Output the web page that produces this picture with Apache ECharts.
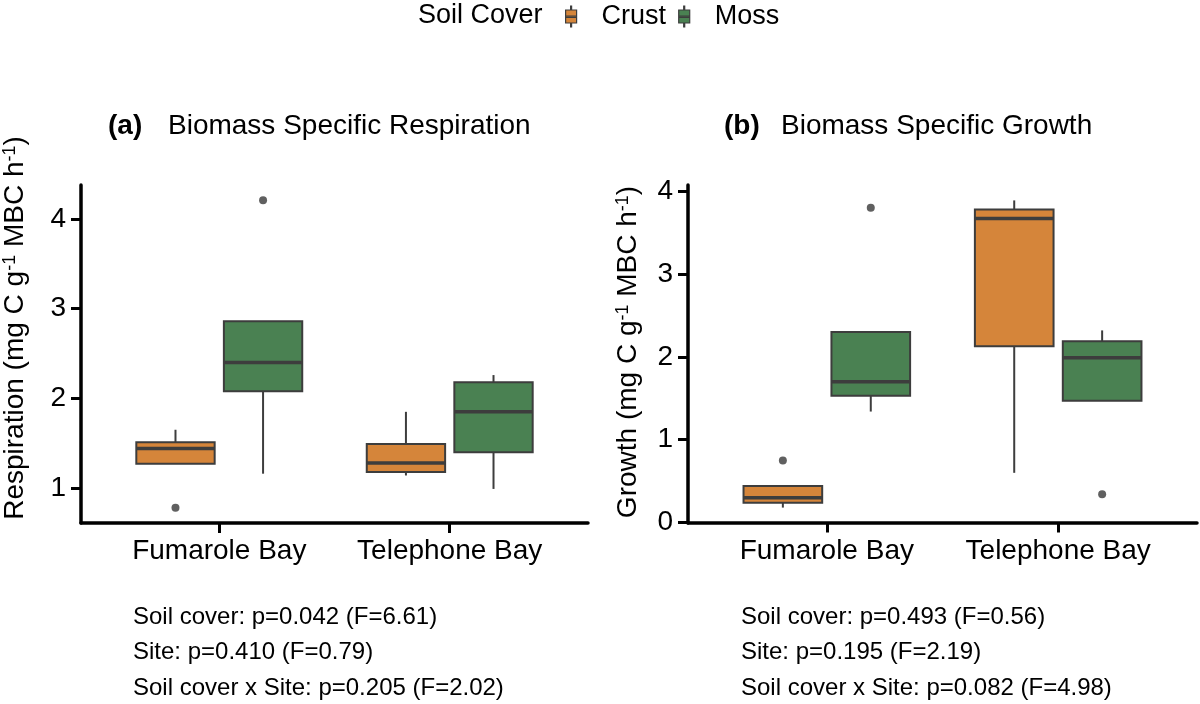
<!DOCTYPE html>
<html>
<head>
<meta charset="utf-8">
<script src="https://cdn.jsdelivr.net/npm/echarts@6/dist/echarts.min.js"></script>
<style>
  html, body { margin: 0; padding: 0; background: #fff; }
  #chart { width: 1200px; height: 704px; }
</style>
</head>
<body>
<div id="chart"></div>
<script>
const sites = ['Fumarole Bay', 'Telephone Bay'];
const covers = ['Crust', 'Moss'];

// per site: [lower whisker, Q1, median, Q3, upper whisker]
const respirationCrust = [[1.27, 1.27, 1.44, 1.51, 1.65], [1.14, 1.18, 1.28, 1.49, 1.85]];
const respirationMoss = [[1.16, 2.08, 2.40, 2.86, 2.86], [0.99, 1.40, 1.85, 2.18, 2.26]];
// [site index, value]
const respirationCrustOutliers = [[0, 0.78]];
const respirationMossOutliers = [[0, 4.21]];

const growthCrust = [[0.18, 0.24, 0.30, 0.44, 0.44], [0.60, 2.13, 3.67, 3.78, 3.89]];
const growthMoss = [[1.34, 1.53, 1.70, 2.30, 2.30], [1.47, 1.47, 1.99, 2.19, 2.32]];
const growthCrustOutliers = [[0, 0.75]];
const growthMossOutliers = [[0, 3.80], [1, 0.34]];

const respirationTicks = [1, 2, 3, 4];
const growthTicks = [0, 1, 2, 3, 4];
const siteTicks = [1, 2];

const respirationStats = [
  'Soil cover: p=0.042 (F=6.61)',
  'Site: p=0.410 (F=0.79)',
  'Soil cover x Site: p=0.205 (F=2.02)',
];
const growthStats = [
  'Soil cover: p=0.493 (F=0.56)',
  'Site: p=0.195 (F=2.19)',
  'Soil cover x Site: p=0.082 (F=4.98)',
];

const FONT = 'Liberation Sans, Arial, Helvetica, sans-serif';
const EDGE = '#3d3d3d';
const colors = { Crust: '#d5853a', Moss: '#4a8152' };
const dodge = { Crust: -0.19, Moss: 0.19 };
const boxWidth = 0.34;

const chart = echarts.init(document.getElementById('chart'), null, { renderer: 'canvas' });

const renderBox = (params, api) => {
  const x = api.value(0);
  const lo = api.coord([x, api.value(1)]);
  const q1 = api.coord([x, api.value(2)]);
  const md = api.coord([x, api.value(3)]);
  const q3 = api.coord([x, api.value(4)]);
  const hi = api.coord([x, api.value(5)]);
  const w = api.size([boxWidth, 0])[0];
  const lineStyle = { stroke: EDGE, lineWidth: 2 };
  return {
    type: 'group',
    children: [
      { type: 'line', shape: { x1: lo[0], y1: lo[1], x2: q1[0], y2: q1[1] }, style: lineStyle },
      { type: 'line', shape: { x1: q3[0], y1: q3[1], x2: hi[0], y2: hi[1] }, style: lineStyle },
      {
        type: 'rect',
        shape: { x: q3[0] - w / 2, y: q3[1], width: w, height: q1[1] - q3[1] },
        style: { fill: api.visual('color'), stroke: EDGE, lineWidth: 2 },
      },
      {
        type: 'line',
        shape: { x1: md[0] - w / 2, y1: md[1], x2: md[0] + w / 2, y2: md[1] },
        style: { stroke: EDGE, lineWidth: 3.5 },
      },
    ],
  };
};

const boxSeries = (name, stats, axis) => ({
  name,
  type: 'custom',
  xAxisIndex: axis,
  yAxisIndex: axis,
  renderItem: renderBox,
  itemStyle: { color: colors[name] },
  encode: { x: 0, y: [1, 2, 3, 4, 5] },
  data: stats.map((s, i) => [i + 1 + dodge[name], ...s]),
  z: 2,
});

const outlierSeries = (name, points, axis) => ({
  name: name + ' outliers',
  type: 'scatter',
  xAxisIndex: axis,
  yAxisIndex: axis,
  symbolSize: 8,
  itemStyle: { color: '#383838' },
  data: points.map(([i, v]) => [i + 1 + dodge[name], v]),
  z: 3,
});

const xAxisFor = (gridIndex) => ({
  type: 'value',
  gridIndex,
  min: 0.4,
  max: 2.6,
  axisLine: { show: true, lineStyle: { color: '#000', width: 3.5 } },
  axisTick: { show: true, customValues: siteTicks, length: 10, lineStyle: { color: '#000', width: 3 } },
  axisLabel: {
    customValues: siteTicks,
    formatter: (v) => sites[Math.round(v) - 1],
    fontSize: 28,
    fontFamily: FONT,
    color: '#000',
    margin: 14,
  },
  splitLine: { show: false },
});

const yAxisFor = (gridIndex, min, max, ticks) => ({
  type: 'value',
  gridIndex,
  min,
  max,
  axisLine: { show: true, lineStyle: { color: '#000', width: 3.5 } },
  axisTick: { show: true, customValues: ticks, length: 10, lineStyle: { color: '#000', width: 3 } },
  axisLabel: { customValues: ticks, fontSize: 28, fontFamily: FONT, color: '#000', margin: 15 },
  splitLine: { show: false },
});

const text = (x, y, str, extra) => ({
  type: 'text',
  x,
  y,
  style: Object.assign(
    { text: str, fontSize: 27, fontFamily: FONT, fill: '#000', textVerticalAlign: 'middle' },
    extra || {}
  ),
});

const supRich = { sup: { fontSize: 18, fontFamily: FONT, verticalAlign: 'top', fill: '#000' } };

const axisName = (x, y, str) => ({
  type: 'text',
  x,
  y,
  rotation: Math.PI / 2,
  style: {
    text: str,
    rich: supRich,
    fontSize: 28,
    fontFamily: FONT,
    fill: '#000',
    align: 'center',
    verticalAlign: 'middle',
  },
});

const statsText = (x, lines) =>
  lines.map((line, k) => text(x, 617 + k * 35.5, line, { fontSize: 24 }));

const option = {
  animation: false,
  backgroundColor: '#fff',
  legend: {
    data: covers,
    left: 560,
    top: -2,
    itemWidth: 11,
    itemHeight: 21,
    itemGap: 12,
    icon: 'path://M5,0H6V4H11V17H6V21H5V17H0V4H5Z M0,10H11V11.4H0Z',
    itemStyle: { borderColor: EDGE, borderWidth: 1.2 },
    textStyle: { fontSize: 27, fontFamily: FONT, color: '#000', padding: [0, 0, 0, 20] },
    selectedMode: false,
  },
  grid: [
    { left: 81, top: 185, width: 507, height: 338 },
    { left: 688, top: 185, width: 509, height: 338 },
  ],
  xAxis: [xAxisFor(0), xAxisFor(1)],
  yAxis: [
    yAxisFor(0, 0.61, 4.38, respirationTicks),
    yAxisFor(1, -0.006, 4.076, growthTicks),
  ],
  series: [
    boxSeries('Crust', respirationCrust, 0),
    boxSeries('Moss', respirationMoss, 0),
    outlierSeries('Crust', respirationCrustOutliers, 0),
    outlierSeries('Moss', respirationMossOutliers, 0),
    boxSeries('Crust', growthCrust, 1),
    boxSeries('Moss', growthMoss, 1),
    outlierSeries('Crust', growthCrustOutliers, 1),
    outlierSeries('Moss', growthMossOutliers, 1),
  ],
  graphic: {
    elements: [
      text(418, 16, 'Soil Cover'),
      text(108, 126, '(a)', { fontWeight: 'bold', fontSize: 28 }),
      text(168, 126, 'Biomass Specific Respiration', { fontSize: 28 }),
      text(724, 126, '(b)', { fontWeight: 'bold', fontSize: 28 }),
      text(781, 126, 'Biomass Specific Growth', { fontSize: 28 }),
      axisName(15, 328, 'Respiration (mg C g{sup|-1} MBC h{sup|-1})'),
      axisName(628, 352, 'Growth (mg C g{sup|-1} MBC h{sup|-1})'),
      ...statsText(133, respirationStats),
      ...statsText(741, growthStats),
    ],
  },
};

chart.setOption(option);
</script>
</body>
</html>
